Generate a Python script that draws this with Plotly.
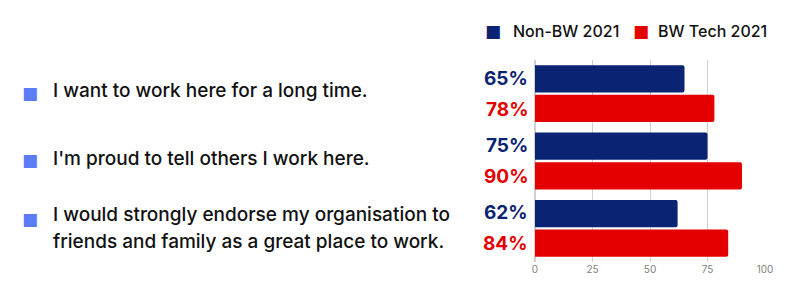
import plotly.graph_objects as go

statements = [
    "I want to work here for a long time.",
    "I'm proud to tell others I work here.",
    "I would strongly endorse my organisation to<br>friends and family as a great place to work.",
]
cats = ["Q1", "Q2", "Q3"]
non_bw = [65, 75, 62]
bw_tech = [78, 90, 84]
series_names = ["Non-BW 2021", "BW Tech 2021"]
ticks = [0, 25, 50, 75, 100]

BLUE = "#0b2373"
RED = "#e50000"
BULLET = "#5b7cf3"
FONT = "Inter, Open Sans, sans-serif"

W, H = 800, 304
ML, MR, MT, MB = 535, 35, 60, 42
PW = W - ML - MR
PH = H - MT - MB
LINE_H = 27


def px(xpix):
    return (xpix - ML) / PW


def py(ypix):
    return 1 - (ypix - MT) / PH


fig = go.Figure()
colors = [BLUE, RED]
for name, vals, col in zip(series_names, [non_bw, bw_tech], colors):
    fig.add_trace(go.Bar(y=cats, x=vals, orientation="h", name=name,
                         marker=dict(color=col, line=dict(width=0))))

ann = []
for i, c in enumerate(cats):
    ann.append(dict(x=0, y=c, xref="x", yref="y", text=f"<b>{non_bw[i]}%</b>",
                    showarrow=False, xanchor="right", xshift=-5, yshift=15.5,
                    font=dict(family=FONT, size=19, color=BLUE)))
    ann.append(dict(x=0, y=c, xref="x", yref="y", text=f"<b>{bw_tech[i]}%</b>",
                    showarrow=False, xanchor="right", xshift=-5, yshift=-15.5,
                    font=dict(family=FONT, size=19, color=RED)))
    lines = statements[i].split("<br>")
    n = len(lines)
    base = 3 if n == 1 else 0
    for k, line in enumerate(lines):
        ys = base + ((n - 1) / 2 - k) * LINE_H
        ann.append(dict(x=px(51), y=c, xref="paper", yref="y", text=line,
                        showarrow=False, xanchor="left", align="left", yshift=ys,
                        font=dict(family=FONT, size=19, color="#111111", weight=500)))
    ann.append(dict(x=px(30), y=c, xref="paper", yref="y", text="■",
                    showarrow=False, xanchor="center",
                    yshift=1 if n == 1 else 9,
                    font=dict(family="DejaVu Sans", size=17, color=BULLET)))

# manual legend
leg_sq_x = [493, 641]
leg_txt_x = [511, 656]
for name, col, sx, tx in zip(series_names, colors, leg_sq_x, leg_txt_x):
    ann.append(dict(x=px(sx), y=py(31), xref="paper", yref="paper", text="■",
                    showarrow=False, xanchor="center", yanchor="middle",
                    font=dict(family="DejaVu Sans", size=17, color=col)))
    ann.append(dict(x=px(tx), y=py(31), xref="paper", yref="paper", text=name,
                    showarrow=False, xanchor="left", yanchor="middle",
                    font=dict(family=FONT, size=16, color="#111111", weight=500)))

fig.update_layout(
    width=W, height=H,
    margin=dict(l=ML, r=MR, t=MT, b=MB, autoexpand=False),
    paper_bgcolor="white", plot_bgcolor="white",
    barmode="group", bargap=0.12, bargroupgap=0.08, barcornerradius=2,
    font=dict(family=FONT),
    showlegend=False,
    annotations=ann,
    xaxis=dict(range=[0, 100], tickvals=ticks, showgrid=True, gridcolor="#d0d0d0",
               gridwidth=1, zeroline=True, zerolinecolor="#d0d0d0", showline=False,
               tickfont=dict(family=FONT, size=10, color="#808080"), fixedrange=True),
    yaxis=dict(autorange="reversed", showticklabels=False, showgrid=False,
               showline=False, zeroline=False, ticks=""),
)
fig.write_html("out.html")
